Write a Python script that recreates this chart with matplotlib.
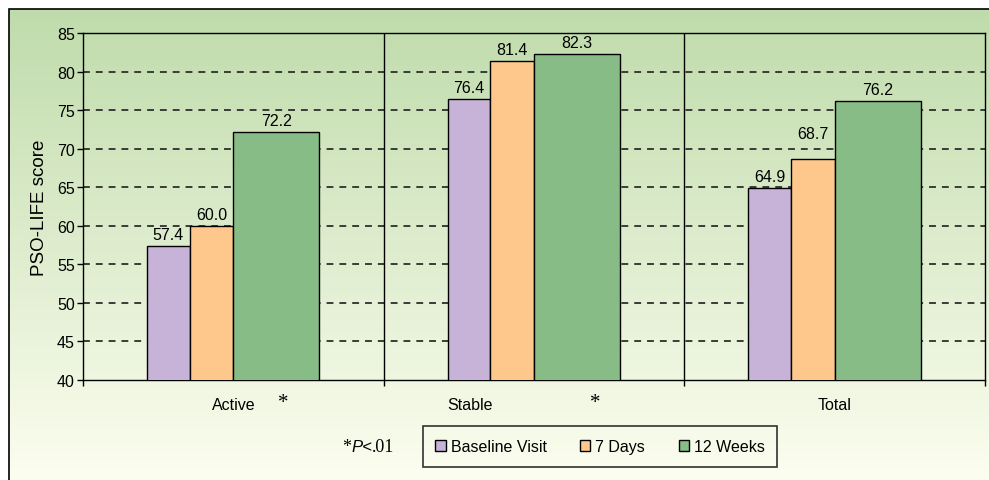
import matplotlib
matplotlib.use('Agg')
import matplotlib.pyplot as plt
import matplotlib.transforms as mtransforms
from matplotlib.patches import Rectangle
import numpy as np

plt.rcParams['font.family'] = ['Liberation Sans', 'DejaVu Sans']

groups = ['Active', 'Stable', 'Total']
series = ['Baseline Visit', '7 Days', '12 Weeks']
baseline = [57.4, 76.4, 64.9]
days7 = [60.0, 81.4, 68.7]
weeks12 = [72.2, 82.3, 76.2]
yticks = [40, 45, 50, 55, 60, 65, 70, 75, 80, 85]

colors = ['#c6b3d7', '#fec78b', '#87bc87']
# bar left offsets / widths inside each group (group spans -0.5..0.5)
offsets = [-0.287, -0.145, 0.0]
widths = [0.142, 0.145, 0.286]

fig = plt.figure(figsize=(9.89, 4.81), dpi=100)
W, H = 989, 481

# gradient background inside the frame
bg = fig.add_axes([9 / W, 0, 1 - 9 / W, 1 - 10 / H])
grad = np.linspace(0, 1, 256).reshape(-1, 1)
top = np.array([0.75, 0.86, 0.67])
bot = np.array([0.99, 0.995, 0.94])
img = top[None, None, :] * (1 - grad[:, :, None]) + bot[None, None, :] * grad[:, :, None]
bg.imshow(img, aspect='auto', extent=[0, 1, 0, 1])
bg.set_axis_off()
fig.add_artist(Rectangle((9 / W, -0.01), 1.0, 1 - 10 / H + 0.01, transform=fig.transFigure,
                         fill=False, edgecolor='black', linewidth=1.2))

ax = fig.add_axes([83 / W, 1 - 381 / H, 902 / W, 347 / H])
ax.patch.set_alpha(0)

x = np.arange(len(groups))
for si, (vals, off, w, c) in enumerate(zip([baseline, days7, weeks12], offsets, widths, colors)):
    bars = ax.bar(x + off, vals, width=w, align='edge', color=c, edgecolor='black',
                  linewidth=1.0, zorder=3)
    for gi, (b, v) in enumerate(zip(bars, vals)):
        dy = 3
        if (si, gi) == (1, 2):  # 68.7 label sits above the 70 gridline in the original
            dy = 12.5
        ax.annotate(f'{v:.1f}', (b.get_x() + b.get_width() / 2, v), xytext=(0, dy),
                    textcoords='offset points', ha='center', va='bottom', fontsize=11.5, zorder=4)

ax.set_ylim(40, 85)
ax.set_xlim(-0.5, 2.5)
ax.set_yticks(yticks)
ax.tick_params(axis='y', labelsize=11.5, length=4, width=1, pad=2)
ax.set_xticks([-0.5, 0.5, 1.5, 2.5])
ax.set_xticklabels([])
ax.tick_params(axis='x', length=4, width=1)
for yv in yticks[1:-1]:
    ax.axhline(yv, color='#2e2e2e', linewidth=1.3, linestyle=(0, (3.8, 3.3)), zorder=1)
for xv in [0.5, 1.5]:
    ax.axvline(xv, color='black', linewidth=1.0, zorder=2)
for s in ax.spines.values():
    s.set_linewidth(1.0)

ax.set_ylabel('PSO-LIFE score', fontsize=13.5, labelpad=6)

trans = mtransforms.blended_transform_factory(ax.transData, ax.transAxes)
label_x = [0.0, 0.786, 2.0]
for lx, g in zip(label_x, groups):
    ax.text(lx, -0.07, g, transform=trans, ha='center', va='center', fontsize=11.5)
for sx in [0.166, 1.205]:
    ax.text(sx, 1 - 408 / H, '*', transform=mtransforms.blended_transform_factory(ax.transData, fig.transFigure),
            ha='center', va='baseline', fontsize=15, family='Liberation Serif')

# significance note
fig.text(342 / W, 1 - 452 / H, '*', ha='left', va='baseline', fontsize=13, family='Liberation Serif')
fig.text(351 / W, 1 - 452 / H, 'P<', ha='left', va='baseline', fontsize=12, style='italic')
fig.text(372 / W, 1 - 452 / H, '.01', ha='left', va='baseline', fontsize=13, family='Liberation Serif')

handles = [Rectangle((0, 0), 1, 1, facecolor=c, edgecolor='black', linewidth=1.0) for c in colors]
leg = fig.legend(handles, series, loc='center', bbox_to_anchor=(600 / W, 1 - 447.5 / H),
                 ncol=3, frameon=True, fancybox=False, fontsize=11.5, handlelength=0.65,
                 handleheight=0.65, handletextpad=0.3, columnspacing=2.1, borderpad=0.8,
                 borderaxespad=0)
leg.get_frame().set_edgecolor('black')
leg.get_frame().set_facecolor('none')
leg.get_frame().set_linewidth(1.2)

fig.savefig('out.png', dpi=100)
